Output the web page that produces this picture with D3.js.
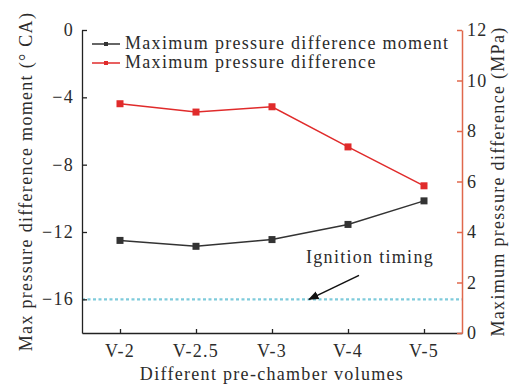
<!DOCTYPE html>
<html>
<head>
<meta charset="utf-8">
<script src="https://cdn.jsdelivr.net/npm/d3@7"></script>
<style>
  body { margin: 0; background: #fff; }
  svg text { font-family: "Liberation Serif", "Times New Roman", serif; fill: #2b2b2b; letter-spacing: 1.3px; }
</style>
</head>
<body>
<svg width="511" height="391"></svg>
<script>
// categories on the x axis
const categories = ['V-2', 'V-2.5', 'V-3', 'V-4', 'V-5'];

// left axis series (°CA) and right axis series (MPa)
const momentValues = [-12.5, -12.85, -12.45, -11.55, -10.15];
const pressureValues = [9.08, 8.75, 8.96, 7.37, 5.83];

// tick labels
const leftTicks = [0, -4, -8, -12, -16];
const rightTicks = [0, 2, 4, 6, 8, 10, 12];

const ignitionTiming = -16;

const seriesNames = ['Maximum pressure difference moment', 'Maximum pressure difference'];

const svg = d3.select('svg');
const width = +svg.attr('width');
const height = +svg.attr('height');

const margin = { top: 30, right: 49, bottom: 58, left: 82 };
const plotLeft = margin.left;
const plotRight = width - margin.right;
const plotTop = margin.top;
const plotBottom = height - margin.bottom;

const fontSize = 18;
const fmt = d3.format('');

// scales work in page coordinates so every label can sit at an absolute spot
const xScale = d3.scalePoint()
  .domain(categories)
  .range([plotLeft, plotRight])
  .padding(0.5);

const yLeft = d3.scaleLinear().domain([-18, 0]).range([plotBottom, plotTop]);
const yRight = d3.scaleLinear().domain([0, 12]).range([plotBottom, plotTop]);

// ignition timing reference line
svg.append('line')
  .attr('x1', plotLeft)
  .attr('x2', plotRight)
  .attr('y1', yLeft(ignitionTiming))
  .attr('y2', yLeft(ignitionTiming))
  .attr('stroke', '#7fcbdb')
  .attr('stroke-width', 2.2)
  .attr('stroke-dasharray', '3,2.5');

// axis lines and inward ticks (labels drawn separately below)
const xAxisG = svg.append('g')
  .attr('transform', `translate(0,${plotBottom})`)
  .call(d3.axisBottom(xScale).tickSizeInner(-4).tickSizeOuter(0).tickFormat(''));

const leftAxisG = svg.append('g')
  .attr('transform', `translate(${plotLeft},0)`)
  .call(d3.axisLeft(yLeft).tickValues(leftTicks).tickSizeInner(-5).tickSizeOuter(0).tickFormat(''));

const rightAxisG = svg.append('g')
  .attr('transform', `translate(${plotRight},0)`)
  .call(d3.axisRight(yRight).tickValues(rightTicks).tickSizeInner(-5).tickSizeOuter(0).tickFormat(''));

[xAxisG, leftAxisG].forEach(a =>
  a.selectAll('.domain, .tick line').attr('stroke', '#222').attr('stroke-width', 1.3));
rightAxisG.selectAll('.domain, .tick line').attr('stroke', '#e0684c').attr('stroke-width', 1.5);
[xAxisG, leftAxisG, rightAxisG].forEach(a => a.selectAll('text').remove());

// tick labels
svg.selectAll(null)
  .data(categories)
  .enter()
  .append('text')
  .attr('x', d => xScale(d))
  .attr('y', plotBottom + 24)
  .attr('text-anchor', 'middle')
  .attr('font-size', fontSize)
  .text(d => d);

svg.selectAll(null)
  .data(leftTicks)
  .enter()
  .append('text')
  .attr('x', plotLeft - 8)
  .attr('y', d => yLeft(d) + 6)
  .attr('text-anchor', 'end')
  .attr('font-size', fontSize)
  .text(d => fmt(d));

svg.selectAll(null)
  .data(rightTicks)
  .enter()
  .append('text')
  .attr('x', plotRight + 5)
  .attr('y', d => yRight(d) + 6)
  .attr('font-size', fontSize)
  .text(d => fmt(d));

// axis titles
svg.append('text')
  .attr('x', (plotLeft + plotRight) / 2)
  .attr('y', plotBottom + 47)
  .attr('text-anchor', 'middle')
  .attr('font-size', fontSize)
  .text('Different pre-chamber volumes');

svg.append('text')
  .attr('transform', `translate(32,${(plotTop + plotBottom) / 2}) rotate(-90)`)
  .attr('text-anchor', 'middle')
  .attr('font-size', fontSize)
  .text('Max pressure difference moment (° CA)');

svg.append('text')
  .attr('transform', `translate(${plotRight + 42},${(plotTop + plotBottom) / 2}) rotate(-90)`)
  .attr('text-anchor', 'middle')
  .attr('font-size', fontSize)
  .text('Maximum pressure difference (MPa)');

// series
const series = [
  { values: momentValues, y: yLeft, color: '#333333' },
  { values: pressureValues, y: yRight, color: '#e02b2b' }
];

const markerSize = 7;

series.forEach(s => {
  const line = d3.line()
    .x((d, i) => xScale(categories[i]))
    .y(d => s.y(d));

  svg.append('path')
    .datum(s.values)
    .attr('fill', 'none')
    .attr('stroke', s.color)
    .attr('stroke-width', 1.5)
    .attr('d', line);

  svg.selectAll(null)
    .data(s.values)
    .enter()
    .append('rect')
    .attr('x', (d, i) => xScale(categories[i]) - markerSize / 2)
    .attr('y', d => s.y(d) - markerSize / 2)
    .attr('width', markerSize)
    .attr('height', markerSize)
    .attr('fill', s.color);
});

// legend
const legendX = plotLeft + 10;
const legendY = plotTop + 14;
series.forEach((s, i) => {
  const ly = legendY + i * 19;
  svg.append('line')
    .attr('x1', legendX).attr('x2', legendX + 28)
    .attr('y1', ly).attr('y2', ly)
    .attr('stroke', s.color)
    .attr('stroke-width', 1.5);
  svg.append('rect')
    .attr('x', legendX + 12).attr('y', ly - 2)
    .attr('width', 4).attr('height', 4)
    .attr('fill', s.color);
  svg.append('text')
    .attr('x', legendX + 33)
    .attr('y', ly + 5)
    .attr('font-size', fontSize)
    .text(seriesNames[i]);
});

// ignition timing annotation
svg.append('defs').append('marker')
  .attr('id', 'arrow')
  .attr('viewBox', '0 0 10 10')
  .attr('refX', 9)
  .attr('refY', 5)
  .attr('markerWidth', 7)
  .attr('markerHeight', 7)
  .attr('orient', 'auto')
  .append('path')
  .attr('d', 'M0,1 L10,5 L0,9 Z')
  .attr('fill', '#111');

const tipX = (xScale('V-3') + xScale('V-4')) / 2 - 1;
const tipY = yLeft(ignitionTiming);

svg.append('line')
  .attr('x1', tipX + 50)
  .attr('y1', tipY - 24)
  .attr('x2', tipX)
  .attr('y2', tipY)
  .attr('stroke', '#111')
  .attr('stroke-width', 1.5)
  .attr('marker-end', 'url(#arrow)');

svg.append('text')
  .attr('x', tipX - 3)
  .attr('y', tipY - 36)
  .attr('font-size', fontSize)
  .text('Ignition timing');
</script>
</body>
</html>
